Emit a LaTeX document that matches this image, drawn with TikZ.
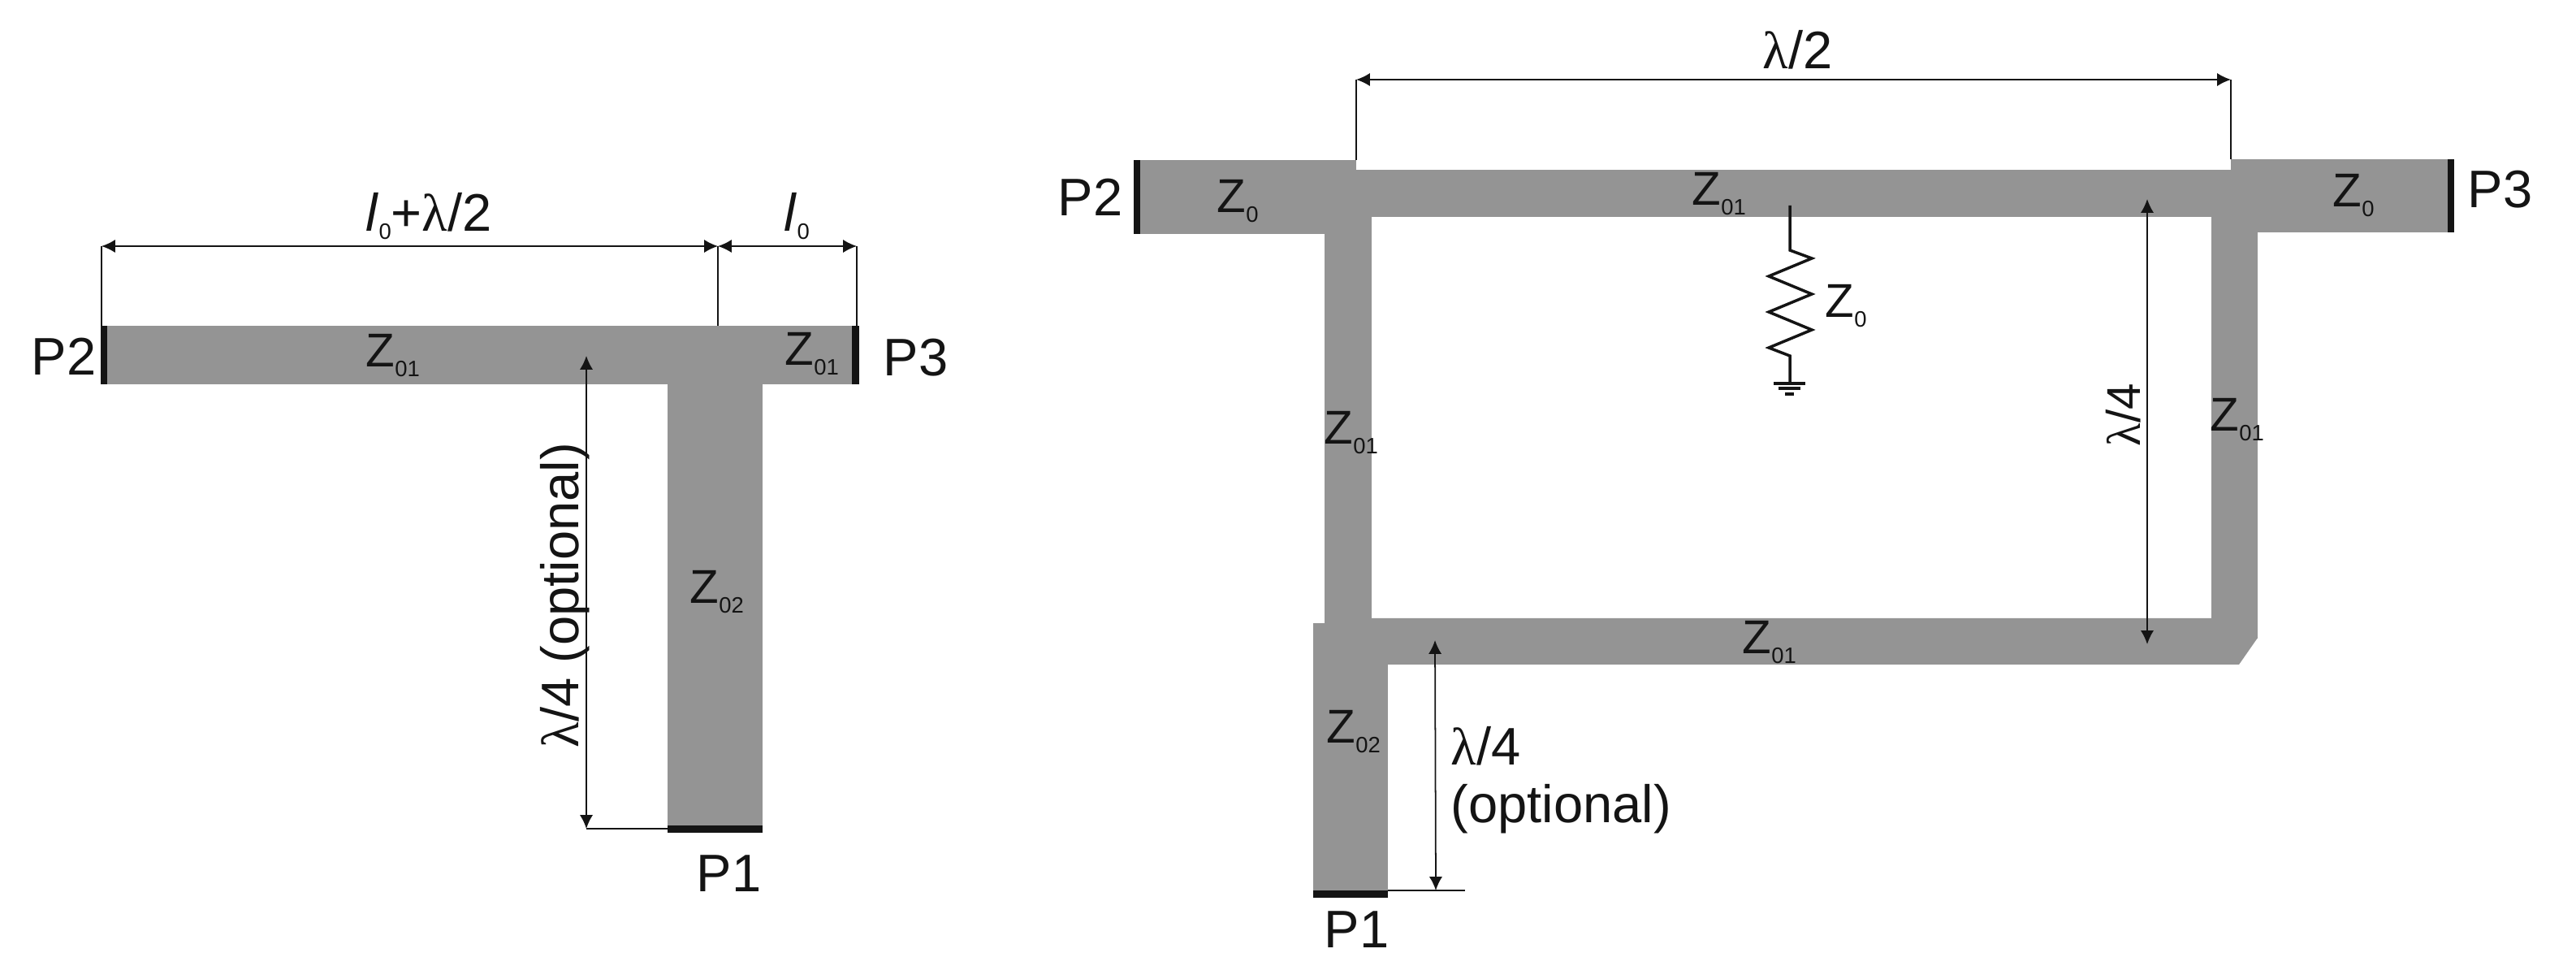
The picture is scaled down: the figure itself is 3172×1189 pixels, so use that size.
\documentclass[tikz,border=0pt]{standalone}
\usepackage{fontspec}
\setmainfont{Liberation Sans}
\newfontfamily\symfont{Liberation Serif}
\usetikzlibrary{arrows.meta}
\definecolor{stripgray}{HTML}{949494}
\definecolor{portblack}{HTML}{141414}
\newcommand{\lam}{{\symfont λ}}
\newcommand{\zlab}[1]{Z\raisebox{-3.4pt}{\fontsize{7.8}{8}\selectfont #1}}
\newcommand{\llab}{\textit{l}\raisebox{-2.8pt}{\fontsize{7.8}{8}\selectfont 0}}
\tikzset{
    strip/.style={fill=stripgray, draw=none},
    port/.style={fill=portblack, draw=none},
    lbl/.style={anchor=base west, inner sep=0pt, text=portblack, font=\fontsize{16.6}{20}\selectfont},
    biglbl/.style={lbl, font=\fontsize{18.5}{20.2}\selectfont},
    dimline/.style={line width=0.5pt, portblack, arrows={Latex[length=4.8pt,width=4.6pt]-Latex[length=4.8pt,width=4.6pt]}},
    extline/.style={line width=0.4pt, portblack},
    wire/.style={line width=1pt, portblack}
}

\begin{document}
\begin{tikzpicture}[x=0.01cm, y=-0.01cm]
    \useasboundingbox (0, 0) rectangle (3172, 1189);

    % T-junction
    \begin{scope}
        \fill[strip] (125, 401) rectangle (1054, 473);
        \fill[strip] (822, 473) rectangle (939, 1020);
        \fill[port] (124, 401) rectangle (132, 473);
        \fill[port] (1049, 401) rectangle (1058, 473);
        \fill[port] (822, 1016) rectangle (939, 1025);

        \coordinate (tL) at (125, 303);
        \coordinate (tM) at (884, 303);
        \coordinate (tR) at (1055, 303);
        \coordinate (tLb) at (125, 401);
        \coordinate (tMb) at (884, 401);
        \coordinate (tRb) at (1055, 401);
        \coordinate (tTop) at (722, 438);
        \coordinate (tBot) at (722, 1020);
        \coordinate (tStem) at (822, 1020);

        \draw[extline] (tL) -- (tLb);
        \draw[extline] (tM) -- (tMb);
        \draw[extline] (tR) -- (tRb);
        \draw[extline] (tBot) -- (tStem);
        \draw[dimline] (tL) -- (tM);
        \draw[dimline] (tM) -- (tR);
        \draw[dimline] (tTop) -- (tBot);

        \node[biglbl] (tP2) at (38, 462) {P2};
        \node[biglbl] (tP3) at (1087, 463) {P3};
        \node[biglbl] (tP1) at (857, 1098) {P1};
        \node[lbl] (tZa) at (450, 452) {\zlab{01}};
        \node[lbl] (tZb) at (966, 450) {\zlab{01}};
        \node[lbl] (tZc) at (849, 743) {\zlab{02}};
        \node[biglbl] (tLen) at (450, 285) {\llab+\lam/2};
        \node[biglbl] (tLz) at (965, 285) {\llab};
        \node[biglbl, rotate=90] (tOpt) at (712, 921) {\lam/4 (optional)};
    \end{scope}

    % Ring
    \begin{scope}
        \fill[strip] (1396, 197) rectangle (1670, 288);
        \fill[strip] (1670, 209) rectangle (2747, 267);
        \fill[strip] (2747, 196) rectangle (3021, 286);
        \fill[strip] (1631, 267) rectangle (1689, 767);
        \fill[strip] (2723, 267) rectangle (2780, 786);
        \fill[strip] (1689, 761) -- (2723, 761) -- (2723, 785) -- (2780, 785)
            -- (2757, 818) -- (1689, 818) -- cycle;
        \fill[strip] (1617, 767) rectangle (1709, 1096);
        \fill[strip] (1689, 761) rectangle (1709, 818);
        \fill[port] (1396, 197) rectangle (1404, 288);
        \fill[port] (3014, 196) rectangle (3022, 286);
        \fill[port] (1617, 1096) rectangle (1709, 1105);

        \coordinate (rL) at (1670, 98);
        \coordinate (rR) at (2747, 98);
        \coordinate (rLb) at (1670, 197);
        \coordinate (rRb) at (2747, 196);
        \coordinate (rTop) at (2644, 245);
        \coordinate (rBot) at (2644, 793);
        \coordinate (sTop) at (1767, 788);
        \coordinate (sBot) at (1768, 1096);
        \coordinate (sStem) at (1709, 1096);
        \coordinate (sEnd) at (1804, 1096);

        \draw[extline] (rL) -- (rLb);
        \draw[extline] (rR) -- (rRb);
        \draw[extline] (sStem) -- (sEnd);
        \draw[dimline] (rL) -- (rR);
        \draw[dimline] (rTop) -- (rBot);
        \draw[dimline] (sTop) -- (sBot);

        % Isolation resistor
        \coordinate (resTop) at (2204, 253);
        \coordinate (resGnd) at (2204, 471);
        \draw[wire] (resTop) -- (2204, 308) -- (2231, 318) -- (2178, 340) -- (2231, 362)
            -- (2178, 384) -- (2231, 406) -- (2178, 428) -- (2204, 438) -- (resGnd);
        \draw[line width=1.1pt, portblack] (2184, 472) -- (2223, 472);
        \draw[line width=1.1pt, portblack] (2190, 478) -- (2217, 478);
        \draw[line width=1.1pt, portblack] (2198, 485) -- (2209, 485);

        \node[biglbl] (rP2) at (1302, 266) {P2};
        \node[biglbl] (rP3) at (3038, 256) {P3};
        \node[biglbl] (rP1) at (1630, 1166) {P1};
        \node[lbl] (rZa) at (1498, 262) {\zlab{0}};
        \node[lbl] (rZb) at (2872, 255) {\zlab{0}};
        \node[lbl] (rZc) at (2083, 253) {\zlab{01}};
        \node[lbl] (rZd) at (1630, 547) {\zlab{01}};
        \node[lbl] (rZe) at (2721, 531) {\zlab{01}};
        \node[lbl] (rZf) at (2145, 805) {\zlab{01}};
        \node[lbl] (rZg) at (1633, 915) {\zlab{02}};
        \node[lbl] (rZh) at (2247, 391) {\zlab{0}};
        \node[biglbl] (rHalf) at (2170, 85) {\lam/2};
        \node[lbl, rotate=90] (rQuar) at (2635, 550) {\lam/4};
        \node[biglbl, align=left] (sOpt) at (1786, 1013) {\lam/4\\(optional)};
    \end{scope}
\end{tikzpicture}
\end{document}
